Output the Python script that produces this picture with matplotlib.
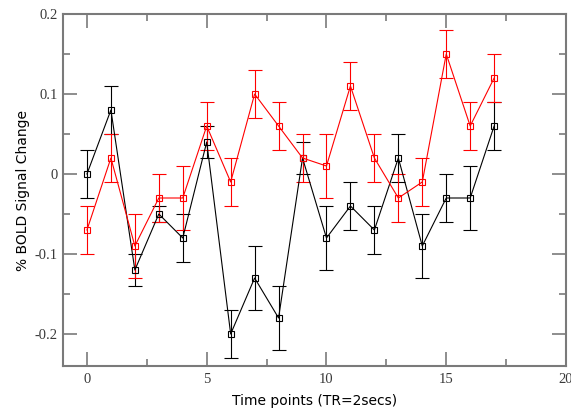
import matplotlib
matplotlib.use("Agg")
import matplotlib.pyplot as plt
from matplotlib.ticker import MultipleLocator

time_points = list(range(18))

black_vals = [0.0, 0.08, -0.12, -0.05, -0.08, 0.04, -0.20, -0.13, -0.18,
              0.02, -0.08, -0.04, -0.07, 0.02, -0.09, -0.03, -0.03, 0.06]
black_err = [0.03, 0.03, 0.02, 0.01, 0.03, 0.02, 0.03, 0.04, 0.04,
             0.02, 0.04, 0.03, 0.03, 0.03, 0.04, 0.03, 0.04, 0.03]

red_vals = [-0.07, 0.02, -0.09, -0.03, -0.03, 0.06, -0.01, 0.10, 0.06,
            0.02, 0.01, 0.11, 0.02, -0.03, -0.01, 0.15, 0.06, 0.12]
red_err = [0.03, 0.03, 0.04, 0.03, 0.04, 0.03, 0.03, 0.03, 0.03,
           0.03, 0.04, 0.03, 0.03, 0.03, 0.03, 0.03, 0.03, 0.03]

x_ticks = [0, 5, 10, 15, 20]
y_ticks = [-0.2, -0.1, 0, 0.1, 0.2]
y_tick_labels = ["-0.2", "-0.1", "0", "0.1", "0.2"]

fig = plt.figure(figsize=(5.71, 4.12), dpi=100)
ax = fig.add_axes([63 / 571, 1 - 366 / 412, (566 - 63) / 571, (366 - 14) / 412])

for vals, errs, col in [(black_vals, black_err, "black"), (red_vals, red_err, "red")]:
    ax.errorbar(time_points, vals, yerr=errs, color=col, lw=0.8,
                elinewidth=0.8, capsize=5, capthick=0.8,
                marker="s", markersize=4.5, markerfacecolor="none",
                markeredgecolor=col, markeredgewidth=0.8)

ax.set_xlim(-1, 20)
ax.set_ylim(-0.24, 0.2)
ax.xaxis.set_major_locator(MultipleLocator(5))
ax.xaxis.set_minor_locator(MultipleLocator(2.5))
ax.yaxis.set_minor_locator(MultipleLocator(0.05))
ax.set_xticks(x_ticks)
ax.set_yticks(y_ticks)
ax.set_yticklabels(y_tick_labels)

frame_col = "#7a7a7a"
for sp in ax.spines.values():
    sp.set_color(frame_col)
    sp.set_linewidth(1.5)

ax.tick_params(which="both", direction="in", top=True, right=True,
               color=frame_col, width=1.2, labelcolor="#3a3a3a")
ax.tick_params(which="major", length=10, pad=4)
ax.tick_params(axis="x", which="major", pad=5)
ax.tick_params(which="minor", length=5)
for lab in ax.get_xticklabels() + ax.get_yticklabels():
    lab.set_family("Liberation Serif")
    lab.set_fontsize(10.5)

ax.set_xlabel("Time points (TR=2secs)", fontsize=10, labelpad=6)
ax.set_ylabel("% BOLD Signal Change", fontsize=10, labelpad=3)

fig.savefig("out.png", dpi=100)
